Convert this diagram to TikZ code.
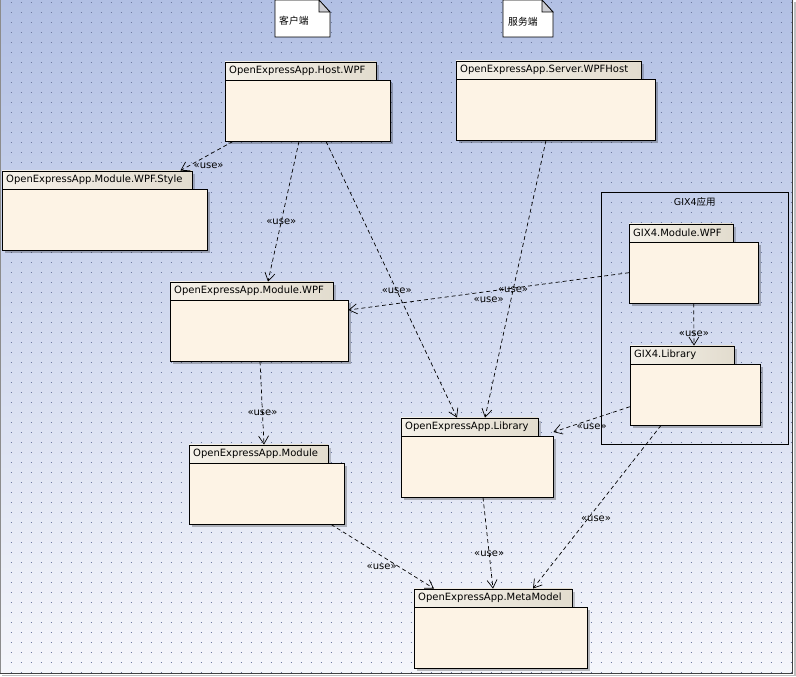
\documentclass[tikz,border=0pt]{standalone}
\usepackage{fontspec}
\setmainfont{DejaVu Sans}
\newfontfamily\cjk{Noto Sans CJK SC}
\usetikzlibrary{arrows.meta, shadows}

\definecolor{bgtop}{RGB}{178,192,228}
\definecolor{bgbottom}{RGB}{245,246,251}
\definecolor{rasterdot}{RGB}{110,122,160}
\definecolor{pkgfill}{RGB}{253,243,229}
\definecolor{tableft}{RGB}{245,241,233}
\definecolor{tabright}{RGB}{226,220,206}
\definecolor{foldgray}{RGB}{205,205,210}

\newcommand{\pkgfont}{\fontsize{10}{11}\selectfont}

% Paket: Name, Text, x, y (Ecke oben links), Breite, Reiterbreite
\newcommand{\paket}[6]{%
  \pgfmathsetmacro{\tabtw}{#6-8}%
  \node[pkgtab, text width=\tabtw pt, anchor=south west] (#1-tab) at (#3,#4) {#2};
  \node[pkgbody, minimum width=#5pt, anchor=north west] (#1) at (#3,#4) {};
}

\begin{document}
\begin{tikzpicture}[x=1pt, y=-1pt,
		pkgbody/.style={draw=black, fill=pkgfill, minimum height=61pt, inner sep=0pt,
			drop shadow={shadow xshift=3pt, shadow yshift=-3pt, fill=black, opacity=0.25}},
		pkgtab/.style={draw=black, left color=tableft, right color=tabright, minimum height=18pt,
			inner xsep=4pt, inner ysep=0pt, align=left, font=\pkgfont,
			drop shadow={shadow xshift=3pt, shadow yshift=-3pt, fill=black, opacity=0.2}},
		use/.style={dash pattern=on 4pt off 3pt, line width=0.7pt,
			-{Straight Barb[length=8pt, width=10pt]}},
		uselabel/.style={font=\pkgfont, inner sep=1pt},
		notiz/.style={draw=black, fill=white, line width=0.7pt},
		font=\pkgfont]
		\useasboundingbox (0,0) rectangle (796,677);
		% Hintergrund
		\fill[white] (0,0) rectangle (796,677);
		\shade[top color=bgtop, bottom color=bgbottom] (0,0) rectangle (793,673);
		% Punktraster
		\foreach \y in {2,12,...,672}
			\draw[rasterdot, line width=0.9pt, dash pattern=on 0.9pt off 9.1pt] (10.5,\y) -- (792,\y);
		% Rahmen
		\draw[black!45] (0.5,0) -- (0.5,673);
		\draw[black!25, line width=1.5pt] (795,2) -- (795,675.5) -- (2,675.5);
		\draw[black!75, line width=1pt] (792.5,0) -- (792.5,673.5) -- (0,673.5);

		% Notizen
		\coordinate (kunde) at (275,0);
		\draw[notiz] (kunde) -- ++(44,0) -- ++(11,12) -- ++(0,25) -- ++(-55,0) -- cycle;
		\draw[notiz, fill=foldgray] ([xshift=44pt]kunde) -- ++(0,12) -- ++(11,0) -- cycle;
		\node[anchor=west, inner sep=0pt, font=\fontsize{9.8}{11}\selectfont\cjk] (kunde-text) at ([xshift=4pt, yshift=-21pt]kunde) {客户端};
		\coordinate (dienst) at (503,0);
		\draw[notiz] (dienst) -- ++(39,0) -- ++(11,12) -- ++(0,25) -- ++(-50,0) -- cycle;
		\draw[notiz, fill=foldgray] ([xshift=39pt]dienst) -- ++(0,12) -- ++(11,0) -- cycle;
		\node[anchor=west, inner sep=0pt, font=\fontsize{9.8}{11}\selectfont\cjk] (dienst-text) at ([xshift=5pt, yshift=-22pt]dienst) {服务端};

		% Rahmen GIX4
		\node[draw=black, line width=0.7pt, minimum width=187pt, minimum height=252pt, inner sep=0pt, anchor=north west] (gix) at (601,192) {};
		\node[font=\fontsize{9.5}{10}\selectfont, inner sep=0pt] (gix-titel) at ([yshift=-10pt]gix.north) {GIX4{\cjk 应用}};

		% Pakete
		\paket{host}{OpenExpressApp.Host.WPF}{225}{80}{165}{151}
		\paket{server}{OpenExpressApp.Server.WPFHost}{456}{79}{199}{185}
		\paket{style}{OpenExpressApp.Module.WPF.Style}{2}{189}{205}{190}
		\paket{modwpf}{OpenExpressApp.Module.WPF}{170}{300}{178}{163}
		\paket{gixmod}{GIX4.Module.WPF}{629}{242}{129}{104}
		\paket{gixlib}{GIX4.Library}{630}{364}{130}{104}
		\paket{lib}{OpenExpressApp.Library}{401}{436}{152}{137}
		\paket{module}{OpenExpressApp.Module}{189}{463}{155}{139}
		\paket{meta}{OpenExpressApp.MetaModel}{414}{607}{173}{158}

		% Abhaengigkeiten
		\draw[use] ([xshift=8pt]host.south west) -- node[uselabel, pos=0.85, right=4pt] {«use»} ([xshift=-12pt]style-tab.north east);
		\draw[use] ([xshift=74pt]host.south west) -- node[uselabel, pos=0.57] {«use»} ([xshift=98pt]modwpf-tab.north west);
		\draw[use] ([xshift=101pt]host.south west) -- node[uselabel, pos=0.54] {«use»} ([xshift=56pt]lib-tab.north west);
		\draw[use] ([xshift=90pt]server.south west) -- node[uselabel, pos=0.54] {«use»} ([xshift=84pt]lib-tab.north west);
		\draw[use] (gixmod.west) -- node[uselabel, pos=0.5, below=4pt] {«use»} ([yshift=-10pt]modwpf.north east);
		\draw[use] (gixmod.south) -- node[uselabel, pos=0.73] {«use»} ([xshift=64pt]gixlib-tab.north west);
		\draw[use] ([yshift=-12pt]gixlib.west) -- node[uselabel, pos=0.5, below=3pt] {«use»} ([yshift=4pt]lib.north east);
		\draw[use] ([xshift=31pt]gixlib.south west) -- node[uselabel, pos=0.57, xshift=8pt] {«use»} ([xshift=119pt]meta-tab.north west);
		\draw[use] ([xshift=90pt]modwpf.south west) -- node[uselabel, pos=0.62] {«use»} ([xshift=75pt]module-tab.north west);
		\draw[use] ([xshift=142pt]module.south west) -- node[uselabel, pos=0.66, left=1pt] {«use»} ([xshift=20pt]meta-tab.north west);
		\draw[use] ([xshift=82pt]lib.south west) -- node[uselabel, pos=0.62] {«use»} ([xshift=79pt]meta-tab.north west);
	\end{tikzpicture}
\end{document}
